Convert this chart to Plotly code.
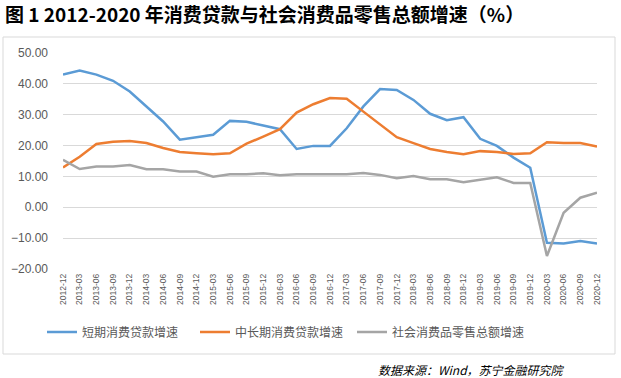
import plotly.graph_objects as go

categories = [
    "2012-12", "2013-03", "2013-06", "2013-09", "2013-12",
    "2014-03", "2014-06", "2014-09", "2014-12",
    "2015-03", "2015-06", "2015-09", "2015-12",
    "2016-03", "2016-06", "2016-09", "2016-12",
    "2017-03", "2017-06", "2017-09", "2017-12",
    "2018-03", "2018-06", "2018-09", "2018-12",
    "2019-03", "2019-06", "2019-09", "2019-12",
    "2020-03", "2020-06", "2020-09", "2020-12",
]

short_term = [43.0, 44.3, 43.0, 41.0, 37.5, 32.6, 27.8, 21.9, 22.6, 23.5, 28.0, 27.7, 26.5,
              25.3, 18.9, 19.9, 19.9, 25.6, 32.7, 38.3, 38.0, 34.8, 30.3, 28.2, 29.2,
              22.2, 19.9, 16.1, 12.8, -11.5, -11.7, -10.9, -11.7]

mid_long_term = [12.9, 16.4, 20.5, 21.2, 21.5, 20.8, 19.2, 17.9, 17.5, 17.2, 17.5, 20.6, 22.9,
                 25.3, 30.7, 33.4, 35.4, 35.2, 31.0, 26.9, 22.7, 20.8, 18.9, 17.9, 17.2,
                 18.2, 17.9, 17.3, 17.5, 21.1, 20.8, 20.8, 19.7]

retail = [15.4, 12.4, 13.2, 13.2, 13.7, 12.3, 12.3, 11.6, 11.6, 9.9, 10.7, 10.7, 11.0,
          10.4, 10.7, 10.7, 10.7, 10.7, 11.1, 10.5, 9.4, 10.1, 9.1, 9.1, 8.1,
          8.9, 9.7, 7.9, 7.9, -15.8, -1.8, 3.1, 4.7]

series_names = ["短期消费贷款增速", "中长期消费贷款增速", "社会消费品零售总额增速"]
series_colors = ["#5B9BD5", "#ED7D31", "#A5A5A5"]
y_ticks = [-20, -10, 0, 10, 20, 30, 40, 50]

title_text = "图 1 2012-2020 年消费贷款与社会消费品零售总额增速（%）"
source_text = "数据来源：Wind，苏宁金融研究院"

W, H = 621, 378
L, R, T, B = 63, 24, 53, 109
pw = W - L - R
ph = H - T - B

def px_x(x):
    return (x - L) / pw

def px_y(y):
    return (H - B - y) / ph

fig = go.Figure()
legend_ids = ["legend", "legend2", "legend3"]
for vals, name, color, lg in zip([short_term, mid_long_term, retail], series_names, series_colors, legend_ids):
    fig.add_trace(go.Scatter(
        x=categories, y=vals, mode="lines", name=name,
        line=dict(color=color, width=2.5), legend=lg,
        hoverinfo="skip",
    ))

font_family = "Noto Sans CJK SC, Liberation Sans, Arial, sans-serif"

legend_common = dict(
    orientation="h", yanchor="middle", xanchor="left",
    font=dict(family=font_family, size=12, color="#595959"),
    bgcolor="rgba(0,0,0,0)", itemwidth=30,
)

fig.update_layout(
    width=W, height=H,
    margin=dict(l=L, r=R, t=T, b=B),
    paper_bgcolor="white", plot_bgcolor="white",
    font=dict(family=font_family, color="#595959"),
    title=dict(
        text=title_text, x=5 / W, xanchor="left", xref="container",
        y=1 - 15 / H, yanchor="middle", yref="container",
        font=dict(family="Noto Sans CJK SC, sans-serif", size=19, color="#000000", weight="bold"),
    ),
    xaxis=dict(
        type="category", categoryorder="array", categoryarray=categories,
        range=[0, len(categories) - 1],
        showgrid=False, zeroline=False, showline=False, ticks="",
        tickangle=-90, tickfont=dict(size=8.5, color="#595959", family="Liberation Sans, Arial"),
        ticklabelstandoff=2,
    ),
    yaxis=dict(
        range=[-20, 50], tickvals=y_ticks, tickformat=".2f",
        showgrid=True, gridcolor="#D9D9D9", gridwidth=1,
        zeroline=False, showline=False, ticks="",
        tickfont=dict(size=12, color="#595959", family="Liberation Sans, Arial"),
        ticklabelstandoff=14,
    ),
    legend=dict(x=px_x(42), y=px_y(332), **legend_common),
    legend2=dict(x=px_x(195), y=px_y(332), **legend_common),
    legend3=dict(x=px_x(352), y=px_y(332), **legend_common),
    showlegend=True,
)

fig.add_shape(
    type="rect", xref="paper", yref="paper",
    x0=px_x(3), x1=px_x(615), y0=px_y(354), y1=px_y(37),
    line=dict(color="#D9D9D9", width=1), fillcolor="rgba(0,0,0,0)", layer="below",
)

fig.add_annotation(
    text=source_text, xref="paper", yref="paper",
    x=px_x(567), y=px_y(369), xanchor="right", yanchor="middle",
    showarrow=False,
    font=dict(family=font_family, size=12, color="#000000", style="italic"),
)

fig.write_html(
    "out.html",
    config={"displayModeBar": False},
    post_script="document.body.style.margin='0';document.body.style.padding='0';",
)
